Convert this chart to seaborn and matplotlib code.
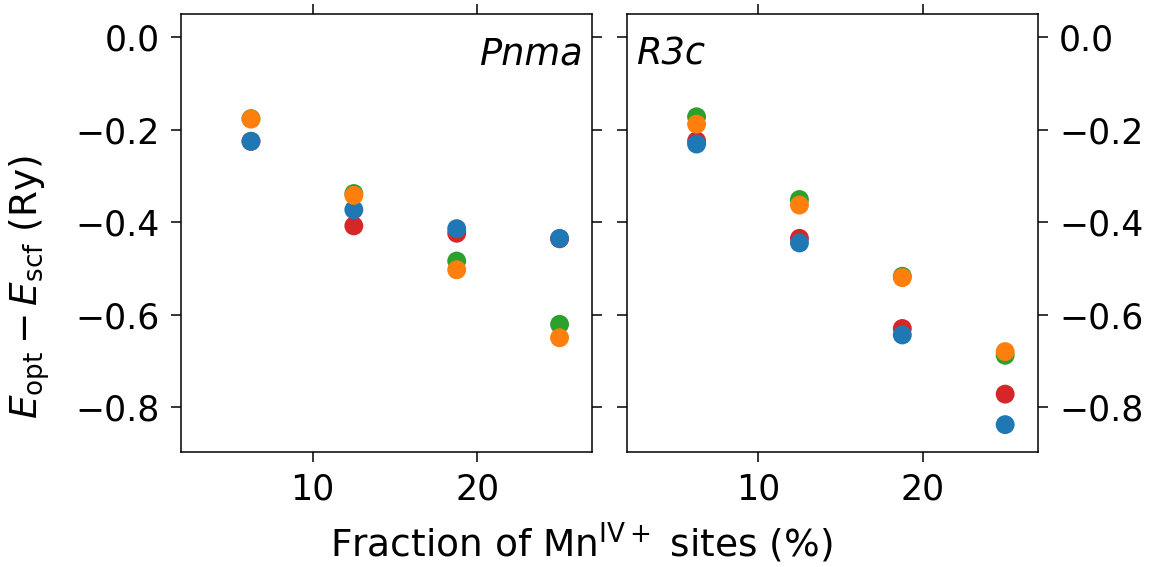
import numpy as np
import pandas as pd
import matplotlib
matplotlib.use("Agg")
import matplotlib.pyplot as plt
import seaborn as sns

# Fraction of Mn(IV+) sites (%)
fraction = [6.25, 12.5, 18.75, 25.0]

# Pnma panel, one list per colour
pnma_red = [-0.225, -0.408, -0.424, -0.436]
pnma_blue = [-0.225, -0.373, -0.414, -0.435]
pnma_green = [-0.176, -0.338, -0.484, -0.621]
pnma_orange = [-0.177, -0.342, -0.503, -0.650]

# R3c panel
r3c_red = [-0.224, -0.435, -0.630, -0.772]
r3c_blue = [-0.231, -0.445, -0.644, -0.838]
r3c_green = [-0.172, -0.351, -0.517, -0.688]
r3c_orange = [-0.188, -0.363, -0.520, -0.680]

series_order = ["red", "blue", "green", "orange"]
colors = {"red": "#d62728", "blue": "#1f77b4", "green": "#2ca02c", "orange": "#ff7f0e"}


def long_frame(values):
    rows = []
    for name in series_order:
        for x, y in zip(fraction, values[name]):
            rows.append({"x": x, "y": y, "series": name})
    return pd.DataFrame(rows)


df_pnma = long_frame({"red": pnma_red, "blue": pnma_blue, "green": pnma_green, "orange": pnma_orange})
df_r3c = long_frame({"red": r3c_red, "blue": r3c_blue, "green": r3c_green, "orange": r3c_orange})

sns.set_style("ticks")
plt.rcParams["font.family"] = ["DejaVu Sans"]
plt.rcParams["mathtext.fontset"] = "dejavusans"
plt.rcParams["text.color"] = "black"
plt.rcParams["axes.labelcolor"] = "black"
plt.rcParams["xtick.color"] = "black"
plt.rcParams["ytick.color"] = "black"

fig, axes = plt.subplots(1, 2, figsize=(11.56, 5.67), dpi=100, sharey=True)
fig.subplots_adjust(left=0.1566, right=0.898, top=0.975, bottom=0.203, wspace=0.083)

for ax, df in zip(axes, [df_pnma, df_r3c]):
    sns.scatterplot(data=df, x="x", y="y", hue="series", palette=colors,
                    s=185, linewidth=0, legend=False, ax=ax)
    ax.set_xlim(2, 27)
    ax.set_ylim(-0.897, 0.05)
    ax.set_xticks([10, 20])
    ax.set_yticks([0.0, -0.2, -0.4, -0.6, -0.8])
    ax.set_xlabel("")
    ax.set_ylabel("")
    for s in ax.spines.values():
        s.set_visible(True)
        s.set_color("black")
        s.set_linewidth(1.1)
    ax.tick_params(axis="both", direction="out", length=7, width=1.1,
                   labelsize=25, top=True, right=True, left=True, bottom=True,
                   pad=8, colors="black")

axes[0].tick_params(labelleft=True, labelright=False)
axes[1].tick_params(labelleft=False, labelright=True)

axes[0].text(0.975, 0.884, "Pnma", transform=axes[0].transAxes, ha="right", va="baseline",
             fontsize=26.5, style="italic")
axes[1].text(0.022, 0.884, "R3c", transform=axes[1].transAxes, ha="left", va="baseline",
             fontsize=26.5, style="italic")

fig.text(0.026, 0.494, r"$E_{\rm opt} - E_{\rm scf}$ (Ry)", rotation=90,
         ha="center", va="center", fontsize=27)
fig.text(0.503, 0.018, r"Fraction of Mn$^{\rm IV+}$ sites (%)", ha="center", va="baseline",
         fontsize=27)

fig.savefig("out.png", dpi=100)
